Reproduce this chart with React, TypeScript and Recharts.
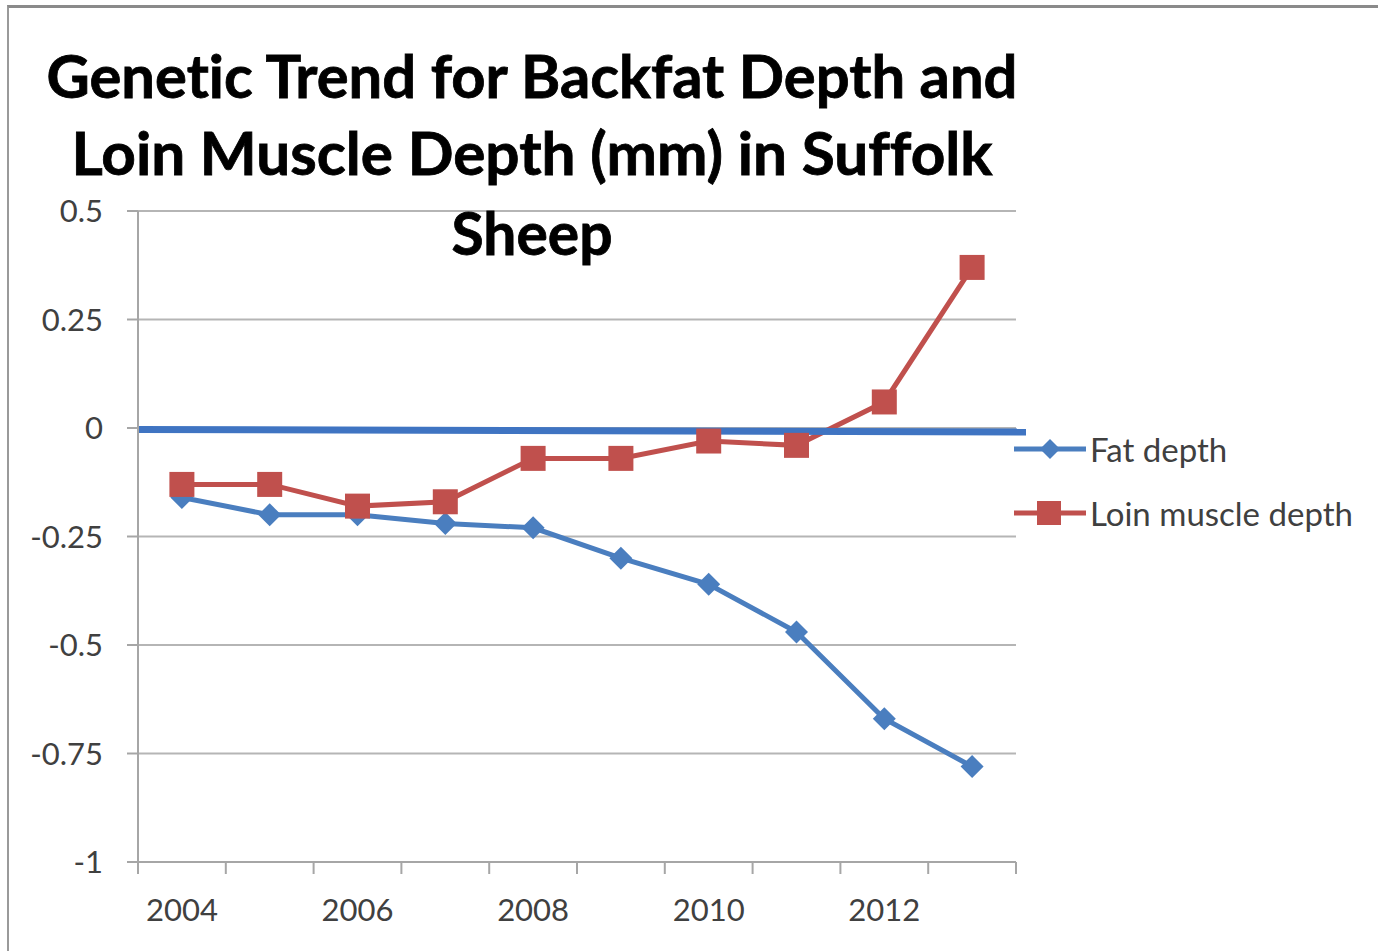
import React from 'react';
import { LineChart, Line, XAxis, YAxis, CartesianGrid, ReferenceLine, Legend } from 'recharts';

const years = ['2004', '2005', '2006', '2007', '2008', '2009', '2010', '2011', '2012', '2013'];
const fatDepth = [-0.16, -0.2, -0.2, -0.22, -0.23, -0.3, -0.36, -0.47, -0.67, -0.78];
const loinMuscleDepth = [-0.13, -0.13, -0.18, -0.17, -0.07, -0.07, -0.03, -0.04, 0.06, 0.37];
const yTicks = [-1, -0.75, -0.5, -0.25, 0, 0.25, 0.5];
const titleLines = ['Genetic Trend for Backfat Depth and', 'Loin Muscle Depth (mm) in Suffolk', 'Sheep'];
const seriesNames = ['Fat depth', 'Loin muscle depth'];

const BLUE = '#4A7EBF';
const RED = '#C0504D';
const FONT = 'Lato, "Open Sans", sans-serif';
const HALF_BAND = 43.9;

const data = years.map((y, i) => ({ year: y, fat: fatDepth[i], loin: loinMuscleDepth[i] }));

const Diamond = (props: any) => {
  const { cx, cy, size = 11, color = BLUE } = props;
  if (cx == null || cy == null) return null;
  return <path d={`M${cx},${cy - size}L${cx + size},${cy}L${cx},${cy + size}L${cx - size},${cy}Z`} fill={color} stroke="none" />;
};
const Square = (props: any) => {
  const { cx, cy, size = 12.5, color = RED } = props;
  if (cx == null || cy == null) return null;
  return <rect x={cx - size} y={cy - size} width={2 * size} height={2 * size} fill={color} stroke="none" />;
};

const XTick = (props: any) => {
  const { x, y, payload, index } = props;
  const isLast = index === years.length - 1;
  return (
    <g>
      <line x1={x - HALF_BAND} y1={y} x2={x - HALF_BAND} y2={y + 12} stroke="#a6a6a6" strokeWidth={2} />
      {isLast && <line x1={x + HALF_BAND} y1={y} x2={x + HALF_BAND} y2={y + 12} stroke="#a6a6a6" strokeWidth={2} />}
      {index % 2 === 0 && (
        <text x={x} y={y + 59} textAnchor="middle" fill="#404040" fontSize={31} fontFamily={FONT}>
          {payload.value}
        </text>
      )}
    </g>
  );
};

const LegendContent = () => {
  const items = [
    { name: seriesNames[0], color: BLUE, shape: 'diamond' },
    { name: seriesNames[1], color: RED, shape: 'square' },
  ];
  return (
    <div style={{ fontFamily: FONT }}>
      {items.map((it) => (
        <div key={it.name} style={{ display: 'flex', alignItems: 'center', height: 64 }}>
          <svg width={78} height={30} style={{ display: 'block' }}>
            <line x1={2} y1={15} x2={74} y2={15} stroke={it.color} strokeWidth={5} />
            {it.shape === 'diamond' ? (
              <Diamond cx={38} cy={15} size={10} color={it.color} />
            ) : (
              <Square cx={37} cy={15} size={12} color={it.color} />
            )}
          </svg>
          <span style={{ fontSize: 33, color: '#404040', whiteSpace: 'nowrap' }}>{it.name}</span>
        </div>
      ))}
    </div>
  );
};

export default function App() {
  return (
    <div style={{ position: 'absolute', left: 0, top: 0, width: 1378, height: 951, overflow: 'hidden', background: '#fff' }}>
      <div
        style={{
          position: 'absolute',
          left: 7,
          top: 5,
          width: 1400,
          height: 1000,
          borderTop: '3px solid #8a8a8a',
          borderLeft: '2px solid #9a9a9a',
        }}
      />
      <div style={{ position: 'absolute', left: 0, top: 0 }}>
        <LineChart width={1378} height={951} data={data} margin={{ top: 211, right: 362, left: 38, bottom: 29 }}>
          <CartesianGrid vertical={false} stroke="#b5b5b5" strokeWidth={2} />
          <XAxis
            dataKey="year"
            height={60}
            interval={0}
            padding={{ left: HALF_BAND, right: HALF_BAND }}
            tickLine={false}
            tickSize={0}
            tickMargin={0}
            axisLine={{ stroke: '#a6a6a6', strokeWidth: 2 }}
            tick={<XTick />}
          />
          <YAxis
            width={100}
            domain={[-1, 0.5]}
            ticks={yTicks}
            interval={0}
            tickSize={11}
            tickMargin={24}
            tickLine={{ stroke: '#a6a6a6', strokeWidth: 2 }}
            axisLine={{ stroke: '#a6a6a6', strokeWidth: 2 }}
            tick={{ fill: '#404040', fontSize: 31, fontFamily: FONT }}
          />
          <Line
            dataKey="fat"
            name={seriesNames[0]}
            stroke={BLUE}
            strokeWidth={5}
            dot={(p: any) => <Diamond key={`f${p.index}`} cx={p.cx} cy={p.cy} size={11.5} color={BLUE} />}
            activeDot={false}
            isAnimationActive={false}
          />
          <Line
            dataKey="loin"
            name={seriesNames[1]}
            stroke={RED}
            strokeWidth={5}
            dot={(p: any) => <Square key={`l${p.index}`} cx={p.cx} cy={p.cy} size={12.5} color={RED} />}
            activeDot={false}
            isAnimationActive={false}
          />
          <ReferenceLine
            y={0}
            stroke={BLUE}
            strokeWidth={7}
            shape={(p: any) => (
              <line x1={p.x1} y1={p.y1 + 1.5} x2={p.x2 + 10} y2={p.y2 + 4} stroke="#3F74C2" strokeWidth={7} />
            )}
          />
          <Legend
            layout="vertical"
            align="center"
            verticalAlign="middle"
            content={<LegendContent />}
            wrapperStyle={{ position: 'absolute', left: 1012, top: 417, width: 366, height: 128 }}
          />
        </LineChart>
      </div>
      <svg width={1378} height={300} style={{ position: 'absolute', left: 0, top: 0, pointerEvents: 'none' }}>
        {titleLines.map((t, i) => (
          <text
            key={t}
            x={532}
            y={[98, 175, 255][i]}
            textAnchor="middle"
            fontFamily={FONT}
            fontWeight={700}
            fontSize={60}
            fill="#000"
            stroke="#000"
            strokeWidth={0.8}
            textLength={[971, 921, 161][i]}
            lengthAdjust="spacingAndGlyphs"
            style={{ fontVariantLigatures: 'none', fontFeatureSettings: '"liga" 0, "clig" 0' }}
          >
            {t}
          </text>
        ))}
      </svg>
    </div>
  );
}
